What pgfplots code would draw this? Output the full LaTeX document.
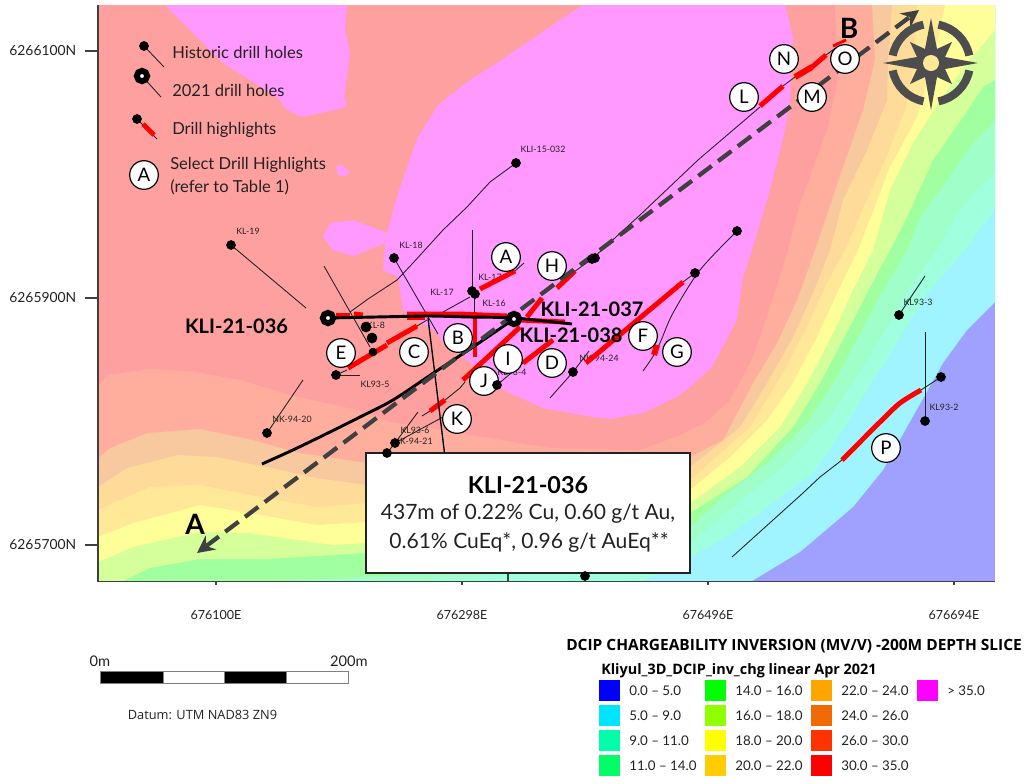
\documentclass[border=0pt]{standalone}
\usepackage{pgfplots}
\pgfplotsset{compat=1.18}
\usepackage{fontspec}
\setmainfont{Lato}
\newfontfamily\opensans{Open Sans}
\usetikzlibrary{arrows.meta}
% map is laid out in reference pixels, 1 px = 0.75pt
\definecolor{cA}{HTML}{A0A0FF}
\definecolor{cB}{HTML}{A0F4FF}
\definecolor{cC}{HTML}{A0FFDC}
\definecolor{cD}{HTML}{A0FFC8}
\definecolor{cE}{HTML}{A0FF9F}
\definecolor{cF}{HTML}{D4FF9A}
\definecolor{cG}{HTML}{FFFF99}
\definecolor{cH}{HTML}{FFE999}
\definecolor{cI}{HTML}{FFDB99}
\definecolor{cJ}{HTML}{F8C89F}
\definecolor{cK}{HTML}{FFAE9E}
\definecolor{cL}{HTML}{FFA0A0}
\definecolor{cM}{HTML}{FF99FF}
\definecolor{lgrey}{HTML}{404040}
\definecolor{compass}{HTML}{4D4D4D}
\definecolor{ink}{HTML}{222222}
\definecolor{k1}{HTML}{0000FF}
\definecolor{k2}{HTML}{00E5FF}
\definecolor{k3}{HTML}{00FFA8}
\definecolor{k4}{HTML}{00FF66}
\definecolor{k5}{HTML}{00FF00}
\definecolor{k6}{HTML}{90FF00}
\definecolor{k7}{HTML}{FFFF00}
\definecolor{k8}{HTML}{FFCC00}
\definecolor{k9}{HTML}{FFA500}
\definecolor{k10}{HTML}{F26A05}
\definecolor{k11}{HTML}{FF3300}
\definecolor{k12}{HTML}{FF0000}
\definecolor{k13}{HTML}{FF00FF}
\tikzset{
  trace/.style={color=ink, line width=0.65pt, line join=round},
  hl/.style={color=red, line width=3.7pt, line join=round},
  hard/.style={color=black, line width=2.2pt, line join=round},
  bub/.style={circle, draw=black, line width=0.9pt, fill=white, minimum size=21.5pt, inner sep=0pt, font=\fontsize{14}{14}\selectfont},
  hole/.style={only marks, mark=*, mark size=3.4pt, mark options={fill=black, draw=black}},
  big/.style={font=\fontsize{15}{15}\selectfont\bfseries, inner sep=0pt},
  hlab/.style={font=\fontsize{6.6}{7}\selectfont, text=ink, inner sep=0pt},
  leg/.style={font=\fontsize{12.4}{12.4}\selectfont, text=ink, inner sep=0pt, anchor=west},
  key/.style={font=\fontsize{10}{11}\selectfont, text=ink, inner sep=0pt, anchor=west},
}
\newcommand{\bubble}[3]{\node[bub] at (#2,#3) {#1};}
\newcommand{\swatch}[8]{\fill[#1] (#2,#3) rectangle (#4,#5); \node[key] at (#6,#7) {#8};}
\begin{document}
\begin{tikzpicture}
\begin{axis}[
  x=0.75pt, y=0.75pt, y dir=reverse,
  xmin=98, xmax=995, ymin=5, ymax=581,
  clip=false, axis on top,
  axis line style={draw=none},
  tick align=outside, major tick length=9.75pt,
  xtick pos=lower, ytick pos=lower,
  xtick style={/pgfplots/major tick length=3pt, color=lgrey, line width=0.8pt},
  ytick style={color=lgrey, line width=0.8pt},
  xtick={216,462,708,954},
  xticklabels={676100E,676298E,676496E,676694E},
  ytick={51,298,545},
  yticklabels={6266100N,6265900N,6265700N},
  tick label style={text=ink},
  xticklabel style={yshift=-9pt, font=\fontsize{9.4}{10}\selectfont},
  yticklabel style={xshift=-3pt, font=\fontsize{10.4}{11}\selectfont},
]
% chargeability bands, outermost first
\addplot[fill=cA, draw=none] coordinates {(98,581)(995,581)(995,5)(98,5)} -- cycle;
\addplot[fill=cB, draw=none] coordinates {(98,581)(752,581)(800,552)(853,507)(883,470)(907,427)(943,363)(967,330)(995,302)(995,5)(98,5)} -- cycle;
\addplot[fill=cC, draw=none] coordinates {(98,581)(643,581)(680,563)(733,533)(780,497)(813,473)(843,430)(867,390)(897,343)(927,293)(965,250)(977,233)(995,210)(995,5)(98,5)} -- cycle;
\addplot[fill=cD, draw=none] coordinates {(98,581)(283,581)(420,581)(600,565)(690,543)(737,503)(787,463)(827,420)(857,377)(883,333)(910,287)(937,250)(953,220)(973,193)(995,173)(995,5)(98,5)} -- cycle;
\addplot[fill=cE, draw=none] coordinates {(98,581)(283,581)(400,575)(690,527)(723,497)(767,463)(807,423)(837,377)(860,333)(883,290)(907,250)(920,217)(947,180)(973,143)(995,120)(995,5)(98,5)} -- cycle;
\addplot[fill=cF, draw=none] coordinates {(98,581)(123,581)(150,568)(200,559)(267,559)(367,553)(690,513)(747,477)(793,427)(820,383)(843,340)(867,293)(890,250)(907,217)(933,160)(963,117)(983,87)(995,80)(995,5)(98,5)} -- cycle;
\addplot[fill=cG, draw=none] coordinates {(98,562)(133,547)(177,537)(200,532)(250,533)(333,545)(367,543)(690,503)(740,467)(780,427)(807,383)(833,333)(853,290)(873,250)(890,190)(913,143)(940,100)(967,63)(995,30)(995,5)(98,5)} -- cycle;
\addplot[fill=cH, draw=none] coordinates {(98,537)(133,523)(200,505)(250,513)(317,525)(367,522)(690,490)(730,457)(767,420)(793,383)(817,337)(840,287)(858,250)(890,167)(917,117)(933,63)(942,20)(945,5)(98,5)} -- cycle;
\addplot[fill=cI, draw=none] coordinates {(98,510)(150,487)(200,485)(250,495)(317,507)(367,503)(690,480)(750,427)(783,373)(807,327)(827,283)(845,250)(860,215)(885,160)(905,110)(915,60)(917,5)(98,5)} -- cycle;
\addplot[fill=cJ, draw=none] coordinates {(98,487)(127,468)(177,455)(217,457)(267,467)(317,478)(367,485)(690,467)(740,427)(767,383)(793,337)(813,293)(830,250)(843,200)(867,150)(887,100)(888,60)(892,5)(98,5)} -- cycle;
\addplot[fill=cK, draw=none] coordinates {(98,458)(110,448)(147,433)(200,429)(253,440)(300,453)(367,463)(500,475)(690,457)(723,440)(753,383)(777,343)(797,300)(815,250)(843,167)(863,110)(875,60)(872,5)(98,5)} -- cycle;
\addplot[fill=cL, draw=none] coordinates {(98,387)(107,375)(150,369)(190,371)(240,380)(290,395)(357,410)(390,422)(423,427)(490,438)(550,448)(640,450)(680,435)(705,423)(730,400)(753,357)(770,307)(788,250)(800,203)(828,127)(838,77)(835,5)(98,5)} -- cycle;
\addplot[fill=cM, draw=none] coordinates {(165,5)(223,63)(277,97)(287,110)(303,117)(343,108)(347,103)(344,98)(350,53)(345,30)(347,5)} -- cycle;
\addplot[fill=cM, draw=none] coordinates {(336,166)(342,165)(350,172)(345,176)(338,175)} -- cycle;
\addplot[fill=cM, draw=none] coordinates {(583,5)(785,5)(793,37)(790,100)(785,130)(770,190)(752,250)(743,277)(737,320)(712,367)(690,387)(677,397)(643,413)(610,419)(593,417)(543,408)(503,390)(467,360)(443,343)(437,333)(403,310)(398,277)(383,270)(385,243)(353,256)(333,250)(323,237)(330,223)(353,220)(387,233)(395,203)(405,173)(418,137)(438,105)(470,80)(497,63)(560,20)} -- cycle;

% hole labels
\node[hlab] at (248,231) {KL-19};
\node[hlab] at (543,149) {KLI-15-032};
\node[hlab] at (411,245) {KL-18};
\node[hlab] at (442,292) {KL-17};
\node[hlab] at (494,303) {KL-16};
\node[hlab] at (490,277) {KL-17};
\node[hlab] at (376,325) {KL-8};
\node[hlab] at (375,384) {KL93-5};
\node[hlab] at (292,419) {NK-94-20};
\node[hlab] at (415,430) {KL93-6};
\node[hlab] at (413,441) {NK-94-21};
\node[hlab] at (512,372) {KL93-4};
\node[hlab] at (599,358) {NK-94-24};
\node[hlab] at (918,302) {KL93-3};
\node[hlab] at (944,407) {KL93-2};

% thin hole traces
\addplot[trace] coordinates {(231,245)(306,308)};
\addplot[trace] coordinates {(516,163)(490,182)(467,207)(443,230)(413,263)(397,280)(368,299)(350,312)};
\addplot[trace] coordinates {(394,258)(438,334)};
\addplot[trace] coordinates {(324,266)(370,347)};
\addplot[trace] coordinates {(472,230)(472,291)};
\addplot[trace] coordinates {(474,294)(474,313)};
\addplot[trace] coordinates {(470,297)(443,312)};
\addplot[trace] coordinates {(515,271)(524,263)};
\addplot[trace] coordinates {(336,375)(347,370)};
\addplot[trace] coordinates {(336,375)(360,375)};
\addplot[trace] coordinates {(417,326)(427,320)};
\addplot[trace] coordinates {(267,433)(303,380)};
\addplot[trace] coordinates {(422,416)(430,411)};
\addplot[trace] coordinates {(445,400)(460,388)(465,382)};
\addplot[trace] coordinates {(418,412)(395,443)};
\addplot[trace] coordinates {(443,417)(395,443)(387,453)};
\addplot[trace] coordinates {(523,363)(497,385)};
\addplot[trace] coordinates {(695,273)(683,282)};
\addplot[trace] coordinates {(589,351)(573,372)(550,398)};
\addplot[trace, smooth] coordinates {(737,231)(700,270)(673,313)(660,343)(652,358)(643,371)};
\addplot[trace] coordinates {(760,107)(698,160)(640,215)(592,259)(560,282)};
\addplot[trace] coordinates {(783,86)(795,77)};
\addplot[trace] coordinates {(826,55)(837,47)};
\addplot[trace] coordinates {(925,276)(899,315)};
\addplot[trace] coordinates {(925,332)(925,421)};
\addplot[trace] coordinates {(941,377)(921,390)};
\addplot[trace] coordinates {(842,460)(820,477)(803,493)(732,557)};

% drill highlights
\addplot[hl] coordinates {(480,289)(515,271)};
\addplot[hl] coordinates {(336,315)(350,315)};
\addplot[hl] coordinates {(354,314)(363,315)};
\addplot[hl] coordinates {(407,314)(460,314)(507,316)};
\addplot[hl] coordinates {(407,318)(425,318)};
\addplot[hl] coordinates {(520,320)(565,322)};
\addplot[hl] coordinates {(475,316)(475,357)};
\addplot[hl] coordinates {(348,368)(387,345)};
\addplot[hl] coordinates {(387,343)(417,326)};
\addplot[hl] coordinates {(430,411)(445,400)};
\addplot[hl] coordinates {(463,380)(490,355)(520,327)};
\addplot[hl] coordinates {(527,317)(542,298)};
\addplot[hl] coordinates {(523,363)(553,340)};
\addplot[hl] coordinates {(586,363)(683,282)};
\addplot[hl, line width=4.5pt] coordinates {(657,345)(654,355)};
\addplot[hl] coordinates {(557,288)(575,271)};
\addplot[hl] coordinates {(760,106)(783,86)};
\addplot[hl, line width=4.5pt] coordinates {(795,77)(812,67)};
\addplot[hl] coordinates {(812,67)(826,55)};
\addplot[hl, line width=2.2pt] coordinates {(833,46)(846,40)};
\addplot[hl, smooth] coordinates {(842,460)(860,442)(880,422)(900,403)(921,390)};

% 2021 holes
\addplot[hard, smooth] coordinates {(328,318)(400,316.5)(430,316)(470,317)(514,318)(572,324)};
\addplot[hard, smooth] coordinates {(514,319)(470,349)(435,372)(393,400)(360,417)(330,432)(295,449)(262,464)};
\addplot[color=black, line width=1pt] coordinates {(428,318)(445,457)};

% section line A-B
\addplot[color=lgrey, line width=3.2pt, dash pattern=on 12.5pt off 6pt, {Stealth[length=13pt,width=13pt]}-{Stealth[length=13pt,width=13pt]}] coordinates {(197,553)(919,10)};

% hole collars
\addplot[hole] coordinates {(231,245)(516,163)(394,258)(472,291)(475,294)(336,375)(267,433)(395,443)(387,453)(573,372)(497,385)(695,273)(737,231)(592,259)(595,258)(899,315)(925,421)(941,377)(585,576)};
\addplot[hole, mark size=3.8pt] coordinates {(366,327)(372,338)};
\addplot[hole, mark size=3pt] coordinates {(373,352)};
\addplot[only marks, mark=*, mark size=3.9pt, mark options={fill=white, draw=black, line width=4.4pt}] coordinates {(328,318)(514,319)};

\node[big] at (236.5,326) {KLI-21-036};
\node[big] at (592,309) {KLI-21-037};
\node[big] at (571,335) {KLI-21-038};
\node[font=\fontsize{21}{21}\selectfont\bfseries, inner sep=0pt] at (195,524) {A};
\node[font=\fontsize{21}{21}\selectfont\bfseries, inner sep=0pt] at (849,28) {B};

% select highlights
\bubble{A}{506}{257}\bubble{B}{458}{338}\bubble{C}{414}{352}\bubble{D}{552}{363}
\bubble{E}{341}{353}\bubble{F}{643}{336}\bubble{G}{677}{352}\bubble{H}{552}{266}
\bubble{I}{508}{359}\bubble{J}{484}{381}\bubble{K}{457}{419}\bubble{L}{744}{97}
\bubble{M}{812}{97}\bubble{N}{784}{59}\bubble{O}{845}{59}\bubble{P}{886}{448}

% compass
\fill[compass] (931,18)--(937,49)--(952,42)--(945,57)--(978,63)--(945,69)--(952,84)--(937,77)--(931,110)--(925,77)--(910,84)--(917,69)--(883,63)--(917,57)--(910,42)--(925,49)--cycle;
\fill[cH] (931,63) circle[radius=6pt];
\draw[compass, line width=6pt] ([shift={(11:29.25pt)}]931,63) arc[start angle=11, end angle=79, radius=29.25pt];
\draw[compass, line width=6pt] ([shift={(101:29.25pt)}]931,63) arc[start angle=101, end angle=169, radius=29.25pt];
\draw[compass, line width=6pt] ([shift={(191:29.25pt)}]931,63) arc[start angle=191, end angle=259, radius=29.25pt];
\draw[compass, line width=6pt] ([shift={(281:29.25pt)}]931,63) arc[start angle=281, end angle=349, radius=29.25pt];

% result box
\draw[fill=white, draw=ink, line width=1.3pt] (366,453) rectangle (690,573);
\addplot[color=lgrey, line width=0.9pt] coordinates {(508,574)(508,581)};
\node[inner sep=0pt, font=\fontsize{17.5}{18}\selectfont\bfseries] at (528,485) {KLI-21-036};
\node[inner sep=0pt, text=ink, font=\fontsize{15.8}{16}\selectfont] at (528,514) {437m of 0.22\% Cu, 0.60 g/t Au,};
\node[inner sep=0pt, text=ink, font=\fontsize{15.8}{16}\selectfont] at (529,542) {0.61\% CuEq*, 0.96 g/t AuEq**};

% map key
\addplot[trace] coordinates {(144,46)(164,67)};
\addplot[hole] coordinates {(144,46)};
\node[leg] at (172,52) {Historic drill holes};
\addplot[trace] coordinates {(142,76)(161,97)};
\addplot[only marks, mark=*, mark size=3.9pt, mark options={fill=white, draw=black, line width=4.4pt}] coordinates {(142,76)};
\node[leg] at (172,90) {2021 drill holes};
\addplot[trace] coordinates {(137,119)(157,139)};
\addplot[hl] coordinates {(143,124)(154,135)};
\addplot[hole] coordinates {(137,119)};
\node[leg] at (172,130) {Drill highlights};
\node[bub] at (144,175) {A};
\node[leg] at (170,165) {Select Drill Highlights};
\node[leg] at (170,187) {(refer to Table 1)};

% axis edges
\draw[lgrey, line width=0.9pt] (98,5)--(98,581.5)--(995,581.5);

% scale bar
\draw[fill=black, draw=gray, line width=0.5pt] (100,671) rectangle (163,683);
\draw[fill=white, draw=gray, line width=0.5pt] (163,671) rectangle (224,683);
\draw[fill=black, draw=gray, line width=0.5pt] (224,671) rectangle (286,683);
\draw[fill=white, draw=gray, line width=0.5pt] (286,671) rectangle (348,683);
\node[inner sep=0pt, text=ink, font=\fontsize{11}{11}\selectfont] at (100,661) {0m};
\node[inner sep=0pt, text=ink, font=\fontsize{11}{11}\selectfont] at (349,661) {200m};
\node[inner sep=0pt, text=ink, font=\fontsize{9.6}{10}\selectfont\opensans] at (202.5,715) {Datum: UTM NAD83 ZN9};

% chargeability legend
\node[inner sep=0pt, anchor=west, font=\fontsize{11.6}{12}\selectfont\opensans\bfseries] at (566,646) {DCIP CHARGEABILITY INVERSION (MV/V) -200M DEPTH SLICE};
\node[inner sep=0pt, anchor=west, font=\fontsize{10.8}{11}\selectfont\opensans\bfseries] at (601,671) {Kliyul\_3D\_DCIP\_inv\_chg linear Apr 2021};
\swatch{k1}{599}{680}{620}{701}{629}{690.5}{0.0 – 5.0}
\swatch{k2}{599}{705}{620}{726}{629}{715.5}{5.0 – 9.0}
\swatch{k3}{599}{730}{620}{751}{629}{740.5}{9.0 – 11.0}
\swatch{k4}{599}{755}{620}{776}{629}{765.5}{11.0 – 14.0}
\swatch{k5}{705}{680}{726}{701}{735}{690.5}{14.0 – 16.0}
\swatch{k6}{705}{705}{726}{726}{735}{715.5}{16.0 – 18.0}
\swatch{k7}{705}{730}{726}{751}{735}{740.5}{18.0 – 20.0}
\swatch{k8}{705}{755}{726}{776}{735}{765.5}{20.0 – 22.0}
\swatch{k9}{811}{680}{832}{701}{841}{690.5}{22.0 – 24.0}
\swatch{k10}{811}{705}{832}{726}{841}{715.5}{24.0 – 26.0}
\swatch{k11}{811}{730}{832}{751}{841}{740.5}{26.0 – 30.0}
\swatch{k12}{811}{755}{832}{776}{841}{765.5}{30.0 – 35.0}
\swatch{k13}{917}{680}{938}{701}{947}{690.5}{> 35.0}
\path (0,0) rectangle (1026,783);
\end{axis}
\end{tikzpicture}
\end{document}
